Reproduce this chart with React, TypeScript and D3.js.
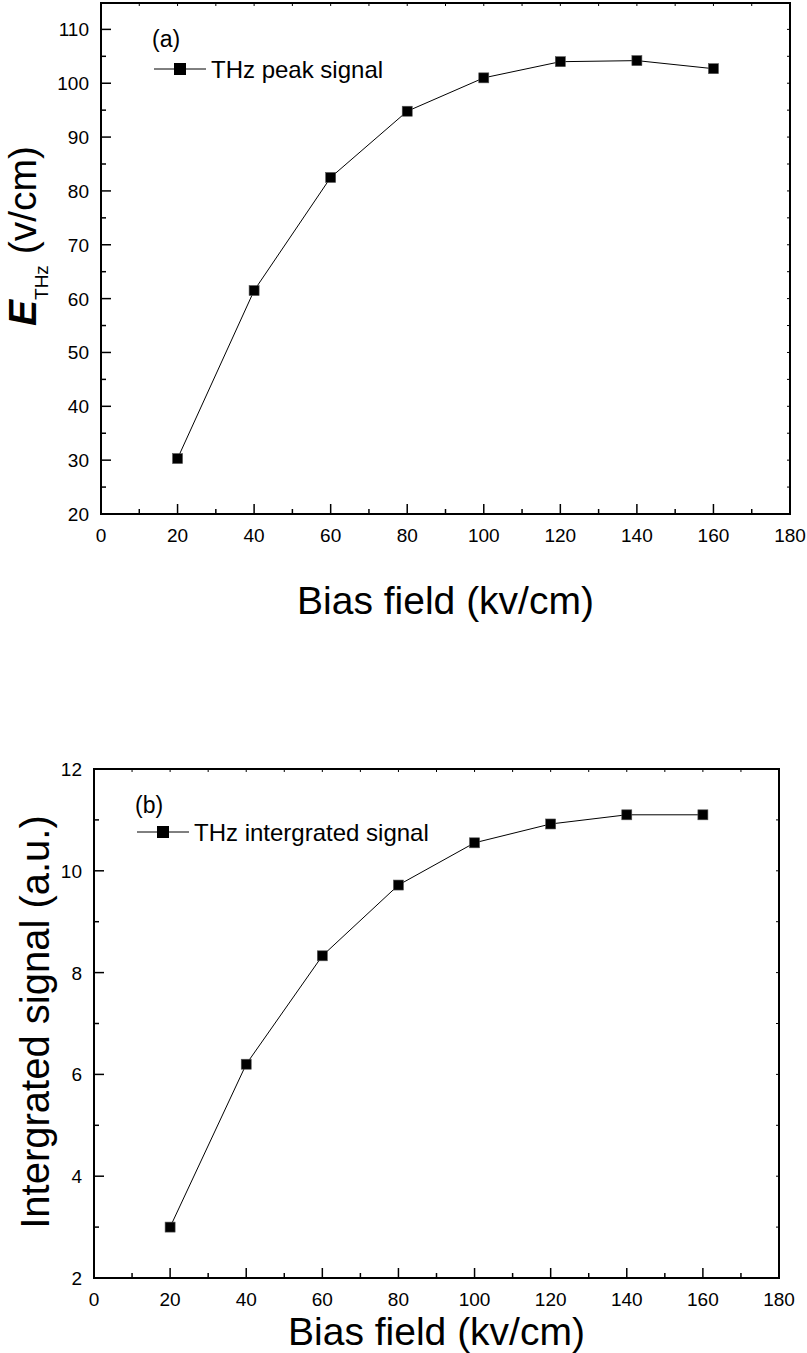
import React from "react";
import * as d3 from "d3";

const biasField = [20, 40, 60, 80, 100, 120, 140, 160];
const peakSignal = [30.3, 61.5, 82.5, 94.8, 101.0, 104.0, 104.2, 102.7];
const integratedSignal = [3.0, 6.2, 8.33, 9.72, 10.55, 10.92, 11.1, 11.1];

const xTicksMajor = [0, 20, 40, 60, 80, 100, 120, 140, 160, 180];
const yTicksA = [20, 30, 40, 50, 60, 70, 80, 90, 100, 110];
const yTicksB = [2, 4, 6, 8, 10, 12];

const FONT = "'Liberation Sans', Arial, Helvetica, sans-serif";

type PanelProps = {
  left: number; right: number; top: number; bottom: number;
  xDomain: [number, number]; yDomain: [number, number];
  yMajor: number[]; yMinorStep: number; xMinorStep: number;
  values: number[];
  tag: string; legend: string;
  tagPos: [number, number]; legendPos: [number, number];
  xTitleY: number;
  yTitle: React.ReactNode; yTitleX: number; yTitleY: number; yTitleSize: number;
};

function Panel(p: PanelProps) {
  const x = d3.scaleLinear().domain(p.xDomain).range([p.left, p.right]);
  const y = d3.scaleLinear().domain(p.yDomain).range([p.bottom, p.top]);
  const xMinor = d3.range(p.xDomain[0], p.xDomain[1] + 0.001, p.xMinorStep);
  const yMinor = d3.range(p.yDomain[0], p.yDomain[1] + 0.001, p.yMinorStep);
  const pts: [number, number][] = biasField.map((b, i) => [x(b), y(p.values[i])]);
  const line = d3.line()(pts) || "";
  const isMajorX = (v: number) => xTicksMajor.includes(v);
  const isMajorY = (v: number) => p.yMajor.some((m) => Math.abs(m - v) < 1e-6);
  const ms = 10;
  const [lx, ly] = p.legendPos;
  return (
    <g>
      {xMinor.map((v) => (
        <g key={"xt" + v}>
          <line x1={x(v)} x2={x(v)} y1={p.bottom} y2={p.bottom - (isMajorX(v) ? 10 : 5)} stroke="#000" strokeWidth={1.5} />
          <line x1={x(v)} x2={x(v)} y1={p.top} y2={p.top + 3} stroke="#000" strokeWidth={1} />
        </g>
      ))}
      {yMinor.map((v) => (
        <g key={"yt" + v}>
          <line x1={p.left} x2={p.left + (isMajorY(v) ? 10 : 5)} y1={y(v)} y2={y(v)} stroke="#000" strokeWidth={1.5} />
          <line x1={p.right} x2={p.right - 3} y1={y(v)} y2={y(v)} stroke="#000" strokeWidth={1} />
        </g>
      ))}
      <rect x={p.left} y={p.top} width={p.right - p.left} height={p.bottom - p.top} fill="none" stroke="#000" strokeWidth={2} />
      {xTicksMajor.map((v) => (
        <text key={"xl" + v} x={x(v)} y={p.bottom + 28} textAnchor="middle" fontSize={19} fontFamily={FONT}>{v}</text>
      ))}
      {p.yMajor.map((v) => (
        <text key={"yl" + v} x={p.left - 12} y={y(v) + 7} textAnchor="end" fontSize={19} fontFamily={FONT}>{v}</text>
      ))}
      <path d={line} fill="none" stroke="#000" strokeWidth={1} />
      {pts.map(([px, py], i) => (
        <rect key={"m" + i} x={px - ms / 2} y={py - ms / 2} width={ms} height={ms} fill="#000" stroke="#555" strokeWidth={0.6} />
      ))}
      <text x={p.tagPos[0]} y={p.tagPos[1]} fontSize={23} fontFamily={FONT}>{p.tag}</text>
      <line x1={lx} x2={lx + 52} y1={ly} y2={ly} stroke="#000" strokeWidth={1} />
      <rect x={lx + 26 - 6} y={ly - 6} width={12} height={12} fill="#000" />
      <text x={lx + 57} y={ly + 9} fontSize={24} fontFamily={FONT}>{p.legend}</text>
      <text x={(p.left + p.right) / 2} y={p.xTitleY} textAnchor="middle" fontSize={39} fontFamily={FONT}>Bias field (kv/cm)</text>
      <text transform={`translate(${p.yTitleX},${p.yTitleY}) rotate(-90)`} textAnchor="middle" fontSize={p.yTitleSize} fontFamily={FONT}>{p.yTitle}</text>
    </g>
  );
}

export default function App() {
  return (
    <svg width={807} height={1353} style={{ position: "absolute", left: 0, top: 0, display: "block", background: "#fff" }}>
      <rect width={807} height={1353} fill="#fff" />
      <Panel
        left={101} right={790} top={3} bottom={514}
        xDomain={[0, 180]} yDomain={[20, 114.9]}
        yMajor={yTicksA} yMinorStep={5} xMinorStep={10}
        values={peakSignal}
        tag="(a)" legend="THz peak signal"
        tagPos={[152, 47]} legendPos={[154, 69]}
        xTitleY={614}
        yTitle={<>
          <tspan fontWeight="bold" fontStyle="italic">E</tspan>
          <tspan fontSize={19} dy={12}>THz</tspan>
          <tspan dy={-12}> (v/cm)</tspan>
        </>}
        yTitleX={36} yTitleY={236} yTitleSize={39}
      />
      <Panel
        left={94} right={779} top={769} bottom={1278}
        xDomain={[0, 180]} yDomain={[2, 12]}
        yMajor={yTicksB} yMinorStep={1} xMinorStep={10}
        values={integratedSignal}
        tag="(b)" legend="THz intergrated signal"
        tagPos={[135, 813]} legendPos={[137, 832]}
        xTitleY={1345}
        yTitle={<>Intergrated signal (a.u.)</>}
        yTitleX={49} yTitleY={1022} yTitleSize={40}
      />
    </svg>
  );
}
